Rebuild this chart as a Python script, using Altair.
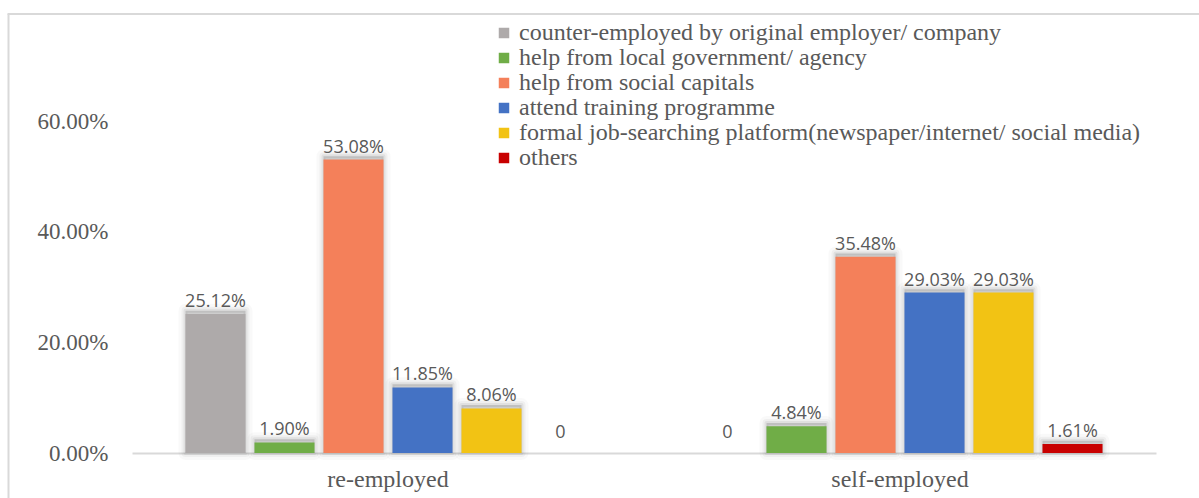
import altair as alt
import pandas as pd

groups = ["re-employed", "self-employed"]
channels = [
    "counter-employed by original employer/ company",
    "help from local government/ agency",
    "help from social capitals",
    "attend training programme",
    "formal job-searching platform(newspaper/internet/ social media)",
    "others",
]
re_employed = [0.2512, 0.0190, 0.5308, 0.1185, 0.0806, 0.0]
self_employed = [0.0, 0.0484, 0.3548, 0.2903, 0.2903, 0.0161]
colors = ["#AEAAAA", "#70AD47", "#F4805A", "#4472C4", "#F2C314", "#C80000"]

rows = []
for g, vals in zip(groups, [re_employed, self_employed]):
    for c, v in zip(channels, vals):
        rows.append({"group": g, "channel": c, "value": v,
                     "label": "0" if v == 0 else f"{v*100:.2f}%"})
df = pd.DataFrame(rows)

LABEL_FONT = "Open Sans"
SERIF = "Liberation Serif"
GREY = "#595959"

x_enc = alt.X("group:N", sort=groups, title=None,
              scale=alt.Scale(paddingInner=0, paddingOuter=0),
              axis=alt.Axis(labelAngle=0, labelPadding=14, ticks=False,
                            domainColor="#D9D9D9", domainWidth=2))
xo_enc = alt.XOffset("channel:N", sort=channels,
                     scale=alt.Scale(paddingInner=0.13, paddingOuter=0.775))
y_enc = alt.Y("value:Q", title=None,
              scale=alt.Scale(domain=[0, 0.7], nice=False),
              axis=alt.Axis(values=[0, 0.2, 0.4, 0.6], format=".2%",
                            labelPadding=24, ticks=False, domain=False,
                            grid=False))

base = alt.Chart(df)

# soft halo above each bar, imitating the Excel shadow effect
shadows = []
for sw, op, fo in [(14, 0.025, 0.0), (8, 0.04, 0.0), (4, 0.06, 0.14)]:
    shadows.append(
        base.transform_filter("datum.value > 0")
        .transform_calculate(top="datum.value + 0.006")
        .mark_bar(fill="black", fillOpacity=fo, stroke="black",
                  strokeOpacity=op, strokeWidth=sw, strokeJoin="round")
        .encode(x=x_enc, xOffset=xo_enc,
                y=alt.Y("top:Q", scale=alt.Scale(domain=[0, 0.7], nice=False)),
                y2=alt.datum(0))
    )

bars = base.mark_bar().encode(
    x=x_enc, xOffset=xo_enc, y=y_enc,
    color=alt.Color("channel:N", sort=channels,
                    scale=alt.Scale(domain=channels, range=colors),
                    legend=alt.Legend(title=None, orient="none",
                                      legendX=360, legendY=-45,
                                      labelFont=SERIF, labelFontSize=24,
                                      labelColor=GREY, labelLimit=1000,
                                      symbolType="square", symbolSize=110,
                                      symbolStrokeWidth=0, rowPadding=1,
                                      labelOffset=3)),
)

labels_nz = base.transform_filter("datum.value > 0").mark_text(
    font=LABEL_FONT, fontSize=18, color=GREY, baseline="bottom", dy=-3
).encode(x=x_enc, xOffset=xo_enc, y=y_enc, text="label:N")

labels_z = base.transform_filter("datum.value == 0").mark_text(
    font=LABEL_FONT, fontSize=18, color=GREY, baseline="bottom", dy=-11
).encode(x=x_enc, xOffset=xo_enc, y=y_enc, text="label:N")

frame_df = pd.DataFrame({"k": [0]})
left_border = alt.Chart(frame_df).mark_rule(color="#D9D9D9", strokeWidth=2).encode(
    x=alt.value(-123.5), y=alt.value(-52), y2=alt.value(440))
top_border = alt.Chart(frame_df).mark_rule(color="#D9D9D9", strokeWidth=2).encode(
    x=alt.value(-124.5), x2=alt.value(1070), y=alt.value(-52))

chart = alt.layer(left_border, top_border, *shadows, bars, labels_nz, labels_z).properties(
    width=1024, height=387,
    padding={"left": 132, "top": 66, "right": 43, "bottom": 45},
    autosize=alt.AutoSizeParams(type="none"),
    background="white",
).configure_view(stroke=None).configure_axisX(
    labelFont=SERIF, labelFontSize=24, labelColor=GREY, labelPadding=14,
    labelAngle=0, ticks=False, domainColor="#D9D9D9", domainWidth=2
).configure_axisY(
    labelFont=SERIF, labelFontSize=23, labelColor=GREY, labelPadding=24,
    ticks=False, domain=False, grid=False
)

chart.save("out.html", embed_options={"renderer": "svg", "actions": False})
